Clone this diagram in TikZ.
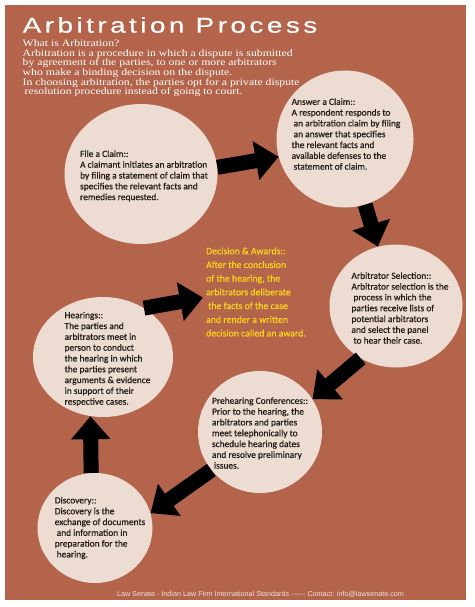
\documentclass[tikz,border=0pt]{standalone}
\usepackage{fontspec}
\setmainfont{Liberation Serif}
\newfontfamily\titlefont[FakeStretch=1.3,LetterSpace=16,FakeBold=0.4]{Liberation Sans}
\newfontfamily\introfont[FakeStretch=1.2]{Liberation Serif}
\newfontfamily\discfont[FakeBold=0.6]{Carlito}
\newfontfamily\footfont{Liberation Sans}
\usepackage{tikz}
\usetikzlibrary{arrows.meta,shapes.geometric,positioning}

\definecolor{wood}{RGB}{180,100,74}
\definecolor{disc}{RGB}{236,220,210}
\definecolor{ink}{RGB}{34,28,24}
\definecolor{gold}{RGB}{248,212,30}
\definecolor{foot}{RGB}{236,226,220}

\tikzset{
  stage/.style={ellipse, fill=disc, inner sep=0pt},
  stagetext/.style={align=left, text=ink, inner sep=0pt,
    font=\discfont\fontsize{9.4}{10.8}\selectfont},
  blockarrow/.style={draw=black, line width=15pt,
    -{Triangle[length=23pt,width=38pt]}}
}
\newcommand{\ind}{\hspace*{2pt}}

\begin{document}
\begin{tikzpicture}[x=1pt,y=-1pt]
    \useasboundingbox (0,0) rectangle (474,607);
    \fill[white] (0,0) rectangle (474,607);
    \fill[wood] (5,5) rectangle (466,600);
    %heading
    \node[anchor=base west, inner sep=0pt, text=white,
      font=\titlefont\fontsize{21.5}{24}\selectfont] (title) at (22.5,32.7) {Arbitration Process};
    \node[anchor=north west, inner sep=0pt, align=left, text=white,
      font=\introfont\fontsize{9.8}{9.7}\selectfont] (intro) at (22.5,39.5)
      {What is Arbitration?\\
       Arbitration is a procedure in which a dispute is submitted\\
       by agreement of the parties, to one or more arbitrators\\
       who make a binding decision on the dispute.\\
       In choosing arbitration, the parties opt for a private dispute\\
       \ind resolution procedure instead of going to court.};
    %stages
    \node[stage, minimum width=153, minimum height=140] (file) at (141,174) {};
    \node[stage, minimum width=137, minimum height=137] (answer) at (345,139) {};
    \node[stage, minimum width=133, minimum height=123] (select) at (396,306) {};
    \node[stage, minimum width=124, minimum height=122] (prehear) at (260,432) {};
    \node[stage, minimum width=115, minimum height=110] (discovery) at (95,528) {};
    \node[stage, minimum width=140, minimum height=120] (hearing) at (103,357) {};
    %texts
    \node[stagetext] (filetext) at (144,176)
      {File a Claim::\\
       A claimant initiates an arbitration\\
       by filing a statement of claim that\\
       specifies the relevant facts and\\
       remedies requested.};
    \node[stagetext] (answertext) at (346,134)
      {Answer a Claim::\\
       A respondent responds to\\
       \ind an arbitration claim by filing\\
       \ind an answer that specifies\\
       the relevant facts and\\
       available defenses to the\\
       \ind statement of claim.};
    \node[stagetext] (selecttext) at (400,308)
      {Arbitrator Selection::\\
       Arbitrator selection is the\\
       \ind process in which the\\
       parties receive lists of\\
       potential arbitrators\\
       and select the panel\\
       \ind to hear their case.};
    \node[stagetext] (prehtext) at (260,433)
      {Prehearing Conferences::\\
       Prior to the hearing, the\\
       arbitrators and parties\\
       meet telephonically to\\
       schedule hearing dates\\
       and resolve preliminary\\
       \ind issues.};
    \node[stagetext] (disctext) at (100,528)
      {Discovery::\\
       Discovery is the\\
       exchange of documents\\
       \ind and information in\\
       preparation for the\\
       \ind hearing.};
    \node[stagetext] (heartext) at (107.5,359)
      {Hearings::\\
       The parties and\\
       arbitrators meet in\\
       person to conduct\\
       the hearing in which\\
       the parties present\\
       arguments \& evidence\\
       in support of their\\
       respective cases.};
    \node[stagetext, text=gold, inner sep=3pt,
      font=\discfont\fontsize{9.8}{13.7}\selectfont] (decision) at (256,292)
      {Decision \& Awards::\\
       After the conclusion\\
       of the hearing, the\\
       arbitrators deliberate\\
       \ind the facts of the case\\
       and render a written\\
       decision called an award.};
    %footer
    \node[anchor=base, inner sep=0pt, text=foot,
      font=\footfont\fontsize{7.2}{8}\selectfont] (footer) at (260.5,596)
      {Law Senate - Indian Law Firm International Standards ------ Contact: info@lawsenate.com};
    %arrows
    \path[every edge/.style=blockarrow]
     (file.5) edge (answer.195)
     (answer) edge (select)
     (select.236) edge (prehear.32)
     (prehear.218) edge (discovery.15)
     (discovery.94) edge (hearing.258)
     (hearing.50) edge (decision.186);
\end{tikzpicture}
\end{document}
